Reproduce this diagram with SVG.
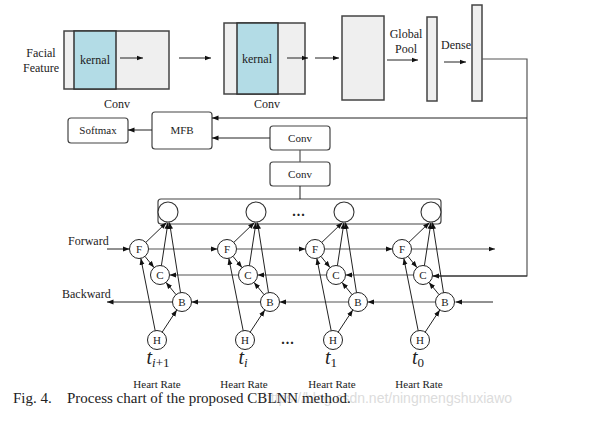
<svg xmlns="http://www.w3.org/2000/svg" width="589" height="441" viewBox="0 0 589 441">
<defs>
<marker id="ah" markerUnits="userSpaceOnUse" markerWidth="7" markerHeight="6" refX="6.5" refY="3" orient="auto"><path d="M0,0.5 L6.5,3 L0,5.5 z" fill="#111"/></marker>
<style>
.t{font-family:"Liberation Serif","Times New Roman",serif;fill:#222;}
.s12{font-size:12px;}
.s11{font-size:11px;}
.ln{stroke:#222;stroke-width:1;fill:none;}
.gl{stroke:#555;stroke-width:1.2;fill:none;}
.arr{marker-end:url(#ah);}
.box{fill:#fff;stroke:#444;stroke-width:1.2;}
.fm{fill:#efefef;stroke:#444;stroke-width:1.5;}
.kn{fill:#b3dce6;stroke:#333;stroke-width:1.5;}
.nd{fill:#fff;stroke:#222;stroke-width:1;}
.tn{fill:#fff;stroke:#333;stroke-width:1.1;}
</style>
</defs>
<rect width="589" height="441" fill="#fff"/>

<!-- top row -->
<text class="t s12" x="41" y="57" text-anchor="middle">Facial</text>
<text class="t s12" x="41" y="72" text-anchor="middle">Feature</text>
<g id="conv1">
<rect class="fm" x="64" y="31" width="105" height="58"/>
<rect class="kn" x="74" y="31" width="42" height="58"/>
<text class="t s12" x="95" y="64" text-anchor="middle">kernal</text>
<text class="t s12" x="117" y="108" text-anchor="middle">Conv</text>
</g>
<g id="conv2">
<rect class="fm" x="224" y="23" width="81" height="71"/>
<rect class="kn" x="237" y="23" width="41" height="71"/>
<text class="t s12" x="257" y="63" text-anchor="middle">kernal</text>
<text class="t s12" x="267" y="108" text-anchor="middle">Conv</text>
</g>
<g id="feature-map">
<rect class="fm" x="342" y="16" width="42" height="84"/>
</g>
<g id="global-pool">
<rect class="fm" x="427" y="17" width="10" height="84"/>
<text class="t s12" x="406" y="38" text-anchor="middle">Global</text>
<text class="t s12" x="406" y="53" text-anchor="middle">Pool</text>
</g>
<g id="dense">
<rect class="fm" x="472" y="5" width="10" height="96"/>
<text class="t s12" x="456" y="49" text-anchor="middle">Dense</text>
</g>

<!-- middle boxes -->
<g id="softmax">
<rect class="box" x="68" y="118" width="60" height="25" rx="3"/>
<text class="t s11" x="98" y="134" text-anchor="middle">Softmax</text>
</g>
<g id="mfb">
<rect class="box" x="152" y="112" width="60" height="37" rx="3"/>
<text class="t s11" x="182" y="134" text-anchor="middle">MFB</text>
</g>
<g id="conv-a">
<rect class="box" x="270" y="126" width="60" height="24" rx="3"/>
<text class="t s11" x="300" y="142" text-anchor="middle">Conv</text>
</g>
<g id="conv-b">
<rect class="box" x="270" y="162" width="60" height="24" rx="3"/>
<text class="t s11" x="300" y="178" text-anchor="middle">Conv</text>
</g>
<g id="concat">
<rect class="box" x="158" y="199" width="283" height="25" rx="3"/>
<circle class="tn" cx="168" cy="212" r="10"/>
<circle class="tn" cx="256" cy="212" r="10"/>
<circle class="tn" cx="344" cy="212" r="10"/>
<circle class="tn" cx="431" cy="212" r="10"/>
<text class="t" x="299" y="216" text-anchor="middle" font-size="14" font-weight="bold" letter-spacing="1">...</text>
</g>

<!-- cells -->
<g id="cell-ti1">
<g id="F1"><circle class="nd" cx="139" cy="249" r="9.5"/><text class="t s11" x="139" y="253" text-anchor="middle">F</text></g>
<g id="C1"><circle class="nd" cx="160" cy="275" r="9.5"/><text class="t s11" x="160" y="279" text-anchor="middle">C</text></g>
<g id="B1"><circle class="nd" cx="182" cy="302" r="9.5"/><text class="t s11" x="182" y="306" text-anchor="middle">B</text></g>
<g id="H1"><circle class="nd" cx="157" cy="340" r="9.5"/><text class="t s11" x="157" y="344" text-anchor="middle">H</text></g>
</g>
<g id="cell-ti" transform="translate(88 0)">
<g id="F2"><circle class="nd" cx="139" cy="249" r="9.5"/><text class="t s11" x="139" y="253" text-anchor="middle">F</text></g>
<g id="C2"><circle class="nd" cx="160" cy="275" r="9.5"/><text class="t s11" x="160" y="279" text-anchor="middle">C</text></g>
<g id="B2"><circle class="nd" cx="182" cy="302" r="9.5"/><text class="t s11" x="182" y="306" text-anchor="middle">B</text></g>
<g id="H2"><circle class="nd" cx="157" cy="340" r="9.5"/><text class="t s11" x="157" y="344" text-anchor="middle">H</text></g>
</g>
<g id="cell-t1" transform="translate(176 0)">
<g id="F3"><circle class="nd" cx="139" cy="249" r="9.5"/><text class="t s11" x="139" y="253" text-anchor="middle">F</text></g>
<g id="C3"><circle class="nd" cx="160" cy="275" r="9.5"/><text class="t s11" x="160" y="279" text-anchor="middle">C</text></g>
<g id="B3"><circle class="nd" cx="182" cy="302" r="9.5"/><text class="t s11" x="182" y="306" text-anchor="middle">B</text></g>
<g id="H3"><circle class="nd" cx="157" cy="340" r="9.5"/><text class="t s11" x="157" y="344" text-anchor="middle">H</text></g>
</g>
<g id="cell-t0" transform="translate(263 0)">
<g id="F4"><circle class="nd" cx="139" cy="249" r="9.5"/><text class="t s11" x="139" y="253" text-anchor="middle">F</text></g>
<g id="C4"><circle class="nd" cx="160" cy="275" r="9.5"/><text class="t s11" x="160" y="279" text-anchor="middle">C</text></g>
<g id="B4"><circle class="nd" cx="182" cy="302" r="9.5"/><text class="t s11" x="182" y="306" text-anchor="middle">B</text></g>
<g id="H4"><circle class="nd" cx="157" cy="340" r="9.5"/><text class="t s11" x="157" y="344" text-anchor="middle">H</text></g>
</g>

<!-- connectors -->
<g id="connectors">
<line class="ln arr" x1="120" y1="58" x2="143" y2="58"/>
<line class="ln arr" x1="179" y1="58" x2="211" y2="58"/>
<line class="ln arr" x1="287" y1="58" x2="308" y2="58"/>
<line class="ln arr" x1="315" y1="58" x2="339" y2="58"/>
<line class="ln arr" x1="387" y1="60" x2="418" y2="60"/>
<line class="ln arr" x1="444" y1="62" x2="466" y2="62"/>
<polyline class="gl" points="482,59 527,59 527,276 432.5,276"/>
<line class="ln arr" x1="527" y1="276" x2="432.5" y2="276"/>
<line class="ln arr" x1="527" y1="118" x2="212" y2="118"/>
<line class="ln arr" x1="152" y1="130" x2="128" y2="130"/>
<line class="ln arr" x1="270" y1="138" x2="212" y2="138"/>
<line class="gl" x1="300" y1="150" x2="300" y2="162"/>
<line class="ln" x1="300" y1="186" x2="300" y2="199"/>

<!-- forward chain -->
<text class="t s12" x="68" y="245">Forward</text>
<line class="ln arr" x1="107" y1="249" x2="129.5" y2="249"/>
<line class="gl arr" x1="148.5" y1="249" x2="217.5" y2="249"/>
<line class="gl arr" x1="236.5" y1="249" x2="305.5" y2="249"/>
<line class="gl arr" x1="324.5" y1="249" x2="392.5" y2="249"/>
<line class="gl arr" x1="411.5" y1="249" x2="495" y2="249"/>
<!-- C chain -->
<line class="gl arr" x1="413.5" y1="275" x2="345.5" y2="275"/>
<line class="gl arr" x1="326.5" y1="275" x2="257.5" y2="275"/>
<line class="gl arr" x1="238.5" y1="275" x2="169.5" y2="275"/>
<!-- backward chain -->
<text class="t s12" x="62" y="298">Backward</text>
<line class="ln arr" x1="493" y1="302" x2="455.5" y2="302"/>
<line class="gl arr" x1="435.5" y1="302" x2="367.5" y2="302"/>
<line class="gl arr" x1="348.5" y1="302" x2="279.5" y2="302"/>
<line class="ln arr" x1="260.5" y1="302" x2="191.5" y2="302"/>
<line class="ln arr" x1="172.5" y1="302" x2="107" y2="302"/>

<g id="cell-edges-1">
<line class="ln arr" x1="145.8" y1="242.4" x2="166.5" y2="222.5"/>
<line class="ln arr" x1="161.4" y1="265.6" x2="168" y2="222.5"/>
<line class="ln arr" x1="180.5" y1="292.6" x2="169.5" y2="222.5"/>
<line class="ln arr" x1="145" y1="256.4" x2="154" y2="267.6"/>
<line class="ln arr" x1="176" y1="294.6" x2="166" y2="282.4"/>
<line class="ln arr" x1="155.2" y1="330.7" x2="140.8" y2="258.3"/>
<line class="ln arr" x1="162.2" y1="332.1" x2="176.8" y2="309.9"/>
</g>
<g id="cell-edges-2" transform="translate(88 0)">
<line class="ln arr" x1="145.8" y1="242.4" x2="166.5" y2="222.5"/>
<line class="ln arr" x1="161.4" y1="265.6" x2="168" y2="222.5"/>
<line class="ln arr" x1="180.5" y1="292.6" x2="169.5" y2="222.5"/>
<line class="ln arr" x1="145" y1="256.4" x2="154" y2="267.6"/>
<line class="ln arr" x1="176" y1="294.6" x2="166" y2="282.4"/>
<line class="ln arr" x1="155.2" y1="330.7" x2="140.8" y2="258.3"/>
<line class="ln arr" x1="162.2" y1="332.1" x2="176.8" y2="309.9"/>
</g>
<g id="cell-edges-3" transform="translate(176 0)">
<line class="ln arr" x1="145.8" y1="242.4" x2="166.5" y2="222.5"/>
<line class="ln arr" x1="161.4" y1="265.6" x2="168" y2="222.5"/>
<line class="ln arr" x1="180.5" y1="292.6" x2="169.5" y2="222.5"/>
<line class="ln arr" x1="145" y1="256.4" x2="154" y2="267.6"/>
<line class="ln arr" x1="176" y1="294.6" x2="166" y2="282.4"/>
<line class="ln arr" x1="155.2" y1="330.7" x2="140.8" y2="258.3"/>
<line class="ln arr" x1="162.2" y1="332.1" x2="176.8" y2="309.9"/>
</g>
<g id="cell-edges-4" transform="translate(263 0)">
<line class="ln arr" x1="145.8" y1="242.4" x2="166.5" y2="222.5"/>
<line class="ln arr" x1="161.4" y1="265.6" x2="168" y2="222.5"/>
<line class="ln arr" x1="180.5" y1="292.6" x2="169.5" y2="222.5"/>
<line class="ln arr" x1="145" y1="256.4" x2="154" y2="267.6"/>
<line class="ln arr" x1="176" y1="294.6" x2="166" y2="282.4"/>
<line class="ln arr" x1="155.2" y1="330.7" x2="140.8" y2="258.3"/>
<line class="ln arr" x1="162.2" y1="332.1" x2="176.8" y2="309.9"/>
</g>
</g>

<!-- time labels -->
<text class="t" x="158" y="364" text-anchor="middle" font-size="20" font-style="italic">t<tspan font-size="13" dy="3">i</tspan><tspan font-size="13" font-style="normal">+1</tspan></text>
<text class="t" x="243" y="364" text-anchor="middle" font-size="20" font-style="italic">t<tspan font-size="13" dy="3">i</tspan></text>
<text class="t" x="331" y="364" text-anchor="middle" font-size="20" font-style="italic">t<tspan font-size="13" dy="3" font-style="normal">1</tspan></text>
<text class="t" x="418" y="364" text-anchor="middle" font-size="20" font-style="italic">t<tspan font-size="13" dy="3" font-style="normal">0</tspan></text>
<text class="t" x="288" y="344" text-anchor="middle" font-size="14" font-weight="bold" letter-spacing="1">...</text>
<text class="t s11" x="157" y="388" text-anchor="middle">Heart Rate</text>
<text class="t s11" x="244" y="388" text-anchor="middle">Heart Rate</text>
<text class="t s11" x="332" y="388" text-anchor="middle">Heart Rate</text>
<text class="t s11" x="419" y="388" text-anchor="middle">Heart Rate</text>

<!-- caption -->
<text x="263" y="403" font-family="Liberation Sans, Arial, sans-serif" font-size="14" fill="#dcdcdc">https://blog.csdn.net/ningmengshuxiawo</text>
<text class="t" x="13" y="403" font-size="15">Fig. 4.</text>
<text class="t" x="67" y="403" font-size="15">Process chart of the proposed CBLNN method.</text>
</svg>
